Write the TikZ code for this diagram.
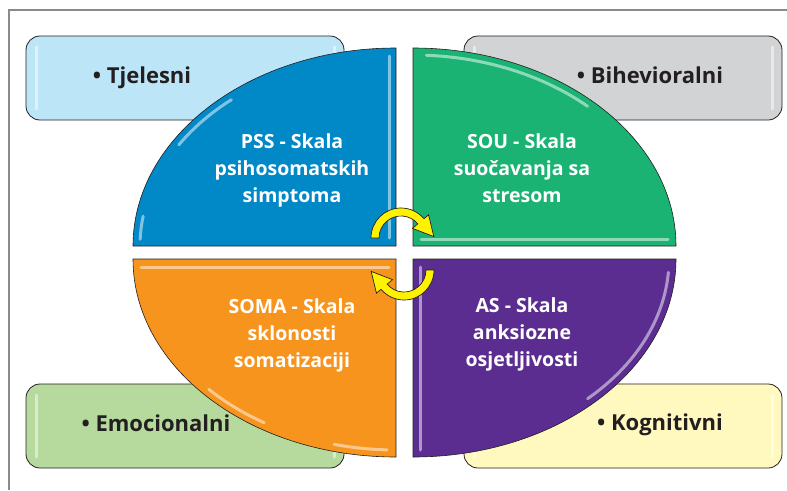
\documentclass[tikz,border=0pt]{standalone}
\usepackage{fontspec}
\setmainfont{Open Sans}
\definecolor{outline}{HTML}{231F20}
\definecolor{framegray}{HTML}{8A8A8A}
\definecolor{pssblue}{HTML}{0088C7}
\definecolor{sougreen}{HTML}{1BB373}
\definecolor{somaorange}{HTML}{F7941D}
\definecolor{aspurple}{HTML}{5C2D91}
\definecolor{tjelfill}{HTML}{BDE5F8}
\definecolor{bihfill}{HTML}{D1D3D4}
\definecolor{emofill}{HTML}{B6DA9D}
\definecolor{kogfill}{HTML}{FFF9BF}
\definecolor{turnyellow}{HTML}{FFF200}
\tikzset{
  catbox/.style={rounded corners=14pt, draw=outline, line width=0.8pt},
  quarter/.style={draw=outline, line width=0.6pt},
  boxtext/.style={font=\bfseries\fontsize{22}{27}\selectfont, text=outline, anchor=base},
  scaletext/.style={font=\bfseries\fontsize{19.5}{27}\selectfont, text=white, align=center},
  gloss/.style={white, line width=3pt, opacity=0.5, line cap=round},
  turn/.style={fill=turnyellow, draw=outline, line width=0.7pt}
}
\begin{document}
\begin{tikzpicture}[x=1pt, y=-1pt]
    \useasboundingbox (0,0) rectangle (787,490);
    % Quarter-ellipse radii
    \def\rx{263}
    \def\ry{198}

    % Frame
    \draw[framegray, line width=1.2pt] (9,490) -- (9,10) -- (787,10);

    % Category boxes
    \draw[catbox, fill=tjelfill] (26,36) rectangle (344,120);
    \draw[catbox, fill=bihfill] (464,36) rectangle (782,120);
    \draw[catbox, fill=emofill] (26,384) rectangle (344,468);
    \draw[catbox, fill=kogfill] (464,384) rectangle (782,468);
    \foreach \bx in {36,334,474,772} {
        \draw[gloss] (\bx,47) -- (\bx,109);
        \draw[gloss] (\bx,395) -- (\bx,457);
    }

    \node[boxtext] (tjelesni) at (142,83) {• Tjelesni};
    \node[boxtext] (bihevioralni) at (650,83) {• Bihevioralni};
    \node[boxtext] (emocionalni) at (156,431) {• Emocionalni};
    \node[boxtext] (kognitivni) at (660,430) {• Kognitivni};

    % Quarters
    \draw[quarter, fill=pssblue] (396,246) -- (396,48)
        arc[start angle=-90, end angle=-180, x radius=\rx, y radius=\ry] -- cycle;
    \draw[quarter, fill=sougreen] (413,246) -- (413,48)
        arc[start angle=-90, end angle=0, x radius=\rx, y radius=\ry] -- cycle;
    \draw[quarter, fill=somaorange] (396,259) -- (133,259)
        arc[start angle=180, end angle=90, x radius=\rx, y radius=\ry] -- cycle;
    \draw[quarter, fill=aspurple] (413,259) -- (676,259)
        arc[start angle=0, end angle=90, x radius=\rx, y radius=\ry] -- cycle;

    % Gloss on the quarters
    \draw[gloss] (389,56) -- (389,238);
    \draw[gloss] (396,246) ++(-130:256 and 191) arc[start angle=-130, end angle=-148, x radius=256, y radius=191];
    \draw[gloss] (396,246) ++(-171:256 and 191) arc[start angle=-171, end angle=-178, x radius=256, y radius=191];
    \draw[gloss] (421,239) -- (668,239);
    \draw[gloss] (413,246) ++(-87:256 and 191) arc[start angle=-87, end angle=-47, x radius=256, y radius=191];
    \draw[gloss] (141,267) -- (389,267);
    \draw[gloss] (396,259) ++(137:256 and 191) arc[start angle=137, end angle=121, x radius=256, y radius=191];
    \draw[gloss] (396,259) ++(104:256 and 191) arc[start angle=104, end angle=92, x radius=256, y radius=191];
    \draw[gloss] (420,267) -- (420,450);
    \draw[gloss] (413,259) ++(4:256 and 191) arc[start angle=4, end angle=47, x radius=256, y radius=191];

    \node[scaletext] (pss) at (292,170) {PSS - Skala\\psihosomatskih\\simptoma};
    \node[scaletext] (sou) at (522,168) {SOU - Skala\\suočavanja sa\\stresom};
    \node[scaletext] (soma) at (292,335) {SOMA - Skala\\sklonosti\\somatizaciji};
    \node[scaletext] (as) at (522,334) {AS - Skala\\anksiozne\\osjetljivosti};

    % Turning arrows
    \begin{scope}[shift={(401,238)}]
        \draw[turn] (180:30) arc[start angle=180, end angle=320, radius=30]
            -- (320:36) -- (32.8,-1.4) -- (320:15) -- (320:22)
            arc[start angle=320, end angle=180, radius=22] -- cycle;
    \end{scope}
    \begin{scope}[shift={(404,270)}]
        \draw[turn] (0:30) arc[start angle=0, end angle=140, radius=30]
            -- (140:36) -- (-32.8,1.4) -- (140:15) -- (140:22)
            arc[start angle=140, end angle=0, radius=22] -- cycle;
    \end{scope}
\end{tikzpicture}
\end{document}
